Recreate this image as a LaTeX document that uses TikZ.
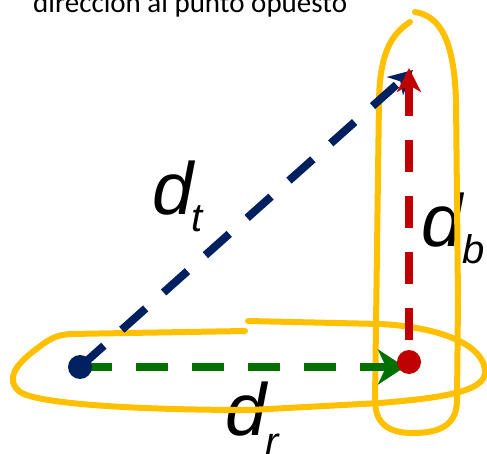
\documentclass[tikz,border=0pt]{standalone}
\usepackage{fontspec}
\setmainfont{Carlito}
\newfontfamily\labfont{Liberation Sans}
\usetikzlibrary{arrows.meta}
\definecolor{cblue}{RGB}{0,32,96}
\definecolor{cred}{RGB}{192,0,0}
\definecolor{cgreen}{RGB}{0,112,0}
\definecolor{corange}{RGB}{255,192,0}
\tikzset{
  vec/.style={line width=8pt, dash pattern=on 32pt off 24pt},
  loopline/.style={draw=corange, line width=6pt, line cap=round},
  biglab/.style={inner sep=0pt, anchor=base west, font=\labfont\itshape\fontsize{74}{80}\selectfont},
  sublab/.style={inner sep=0pt, anchor=base west, font=\labfont\itshape\fontsize{40}{44}\selectfont},
  pt/.style={circle, inner sep=0pt, minimum size=24pt}
}
\begin{document}
\begin{tikzpicture}[x=1pt,y=-1pt]
\useasboundingbox (0,0) rectangle (487,454);
% title
\node[inner sep=0pt, anchor=base west, font=\fontsize{29}{32}\selectfont] (title) at (33,12.5) {dirección al punto opuesto};
% labels
\node[biglab] (dt) at (152,215) {d};
\node[sublab] (dtsub) at (191,232) {t};
\node[biglab] (db) at (421,247) {d};
\node[sublab] (dbsub) at (462,264) {b};
\node[biglab] (dr) at (225,435) {d};
\node[sublab] (drsub) at (265,455) {r};
% orange loops
\draw[loopline] (248,321) -- (380,324) .. controls (440,327) and (485,345) .. (485,372)
  .. controls (485,392) and (440,398) .. (380,403) -- (250,410)
  .. controls (150,410) and (40,405) .. (20,392)
  .. controls (5,380) and (15,365) .. (35,350)
  .. controls (48,340) and (55,335) .. (70,334) -- (245,331);
\draw[loopline] (410,22) .. controls (390,35) and (380,55) .. (379,100) -- (375,400)
  .. controls (375,425) and (390,433) .. (413,433)
  .. controls (440,433) and (457,425) .. (457,400) -- (458,300) -- (456,100)
  .. controls (454,40) and (440,16) .. (415,12);
% points
\coordinate (A) at (80,367);
\coordinate (B) at (409,362);
\coordinate (Bend) at (405,367);
\coordinate (Ctop) at (409,68);
\coordinate (Dtop) at (413,70);
% vectors
\draw[vec, cblue, -{Stealth[length=24pt,width=24pt,inset=7pt]}] (A) -- (Dtop);
\draw[vec, cred, dash phase=34pt, -{Stealth[length=24pt,width=24pt,inset=7pt]}] (B) -- (Ctop);
\draw[vec, cgreen, -{Stealth[length=27pt,width=35pt,inset=8pt]}] (A) -- (Bend);
\node[pt, fill=cblue] (pa) at (A) {};
\node[pt, fill=cred] (pb) at (B) {};
\end{tikzpicture}
\end{document}
